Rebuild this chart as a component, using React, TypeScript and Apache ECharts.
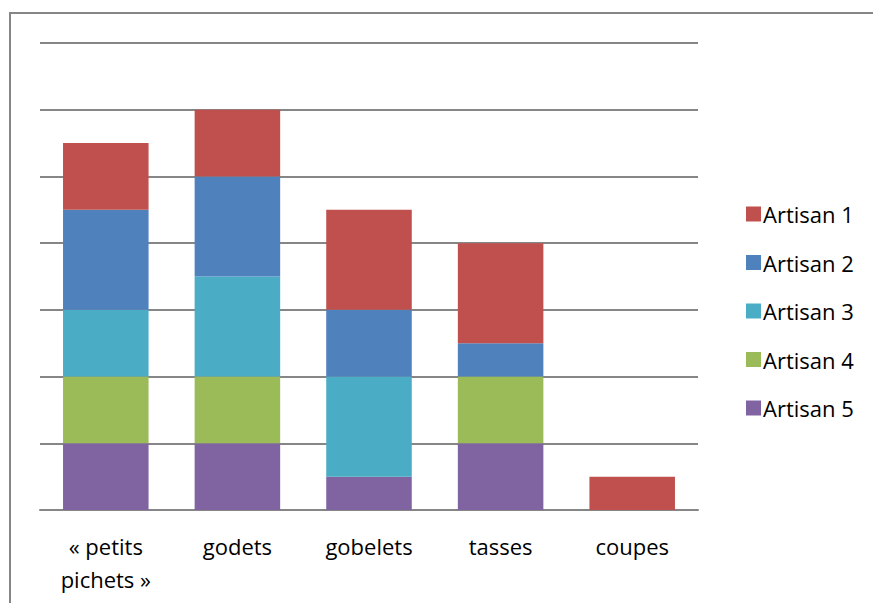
import React, { useEffect, useRef } from "react";
import * as echarts from "echarts";

const categories = ["« petits\npichets »", "godets", "gobelets", "tasses", "coupes"];
const seriesNames = ["Artisan 5", "Artisan 4", "Artisan 3", "Artisan 2", "Artisan 1"];
const artisan5 = [2, 2, 1, 2, 0];
const artisan4 = [2, 2, 0, 2, 0];
const artisan3 = [2, 3, 3, 0, 0];
const artisan2 = [3, 3, 2, 1, 0];
const artisan1 = [2, 2, 3, 3, 1];
const colors = ["#8064A2", "#9BBB59", "#4BACC6", "#4F81BD", "#C0504D"];
const legendOrder = ["Artisan 1", "Artisan 2", "Artisan 3", "Artisan 4", "Artisan 5"];

export default function App() {
  const ref = useRef<HTMLDivElement>(null);
  useEffect(() => {
    if (!ref.current) return;
    const chart = echarts.init(ref.current, null, { renderer: "svg" });
    const values = [artisan5, artisan4, artisan3, artisan2, artisan1];
    const font = "'Open Sans', 'Liberation Sans', sans-serif";
    chart.setOption({
      animation: false,
      backgroundColor: "#ffffff",
      graphic: [
        {
          type: "rect",
          shape: { x: 10, y: 13, width: 880, height: 620 },
          style: { fill: "none", stroke: "#868686", lineWidth: 2 },
          silent: true,
        },
      ],
      grid: { left: 40, right: 175, top: 43, bottom: 93, containLabel: false },
      legend: {
        data: legendOrder,
        orient: "vertical",
        left: 741,
        top: 198,
        itemWidth: 15,
        itemHeight: 15,
        itemGap: 26.5,
        icon: "rect",
        textStyle: { fontSize: 22, color: "#000", fontFamily: font, padding: [0, 0, 0, -3] },
      },
      xAxis: {
        type: "category",
        data: categories,
        axisLine: { show: true, lineStyle: { color: "#868686", width: 2 } },
        axisTick: { show: false },
        axisLabel: {
          fontSize: 22,
          color: "#000",
          fontFamily: font,
          margin: 19,
          lineHeight: 33,
          interval: 0,
        },
      },
      yAxis: {
        type: "value",
        min: 0,
        max: 14,
        interval: 2,
        axisLabel: { show: false },
        axisLine: { show: false },
        axisTick: { show: false },
        splitLine: { lineStyle: { color: "#868686", width: 2 } },
      },
      series: seriesNames.map((name, i) => ({
        name,
        type: "bar",
        stack: "total",
        data: values[i],
        barWidth: "65%",
        itemStyle: { color: colors[i] },
      })),
    });
    return () => chart.dispose();
  }, []);
  return (
    <div
      ref={ref}
      style={{ position: "fixed", left: 0, top: 0, width: 873, height: 603 }}
    />
  );
}
